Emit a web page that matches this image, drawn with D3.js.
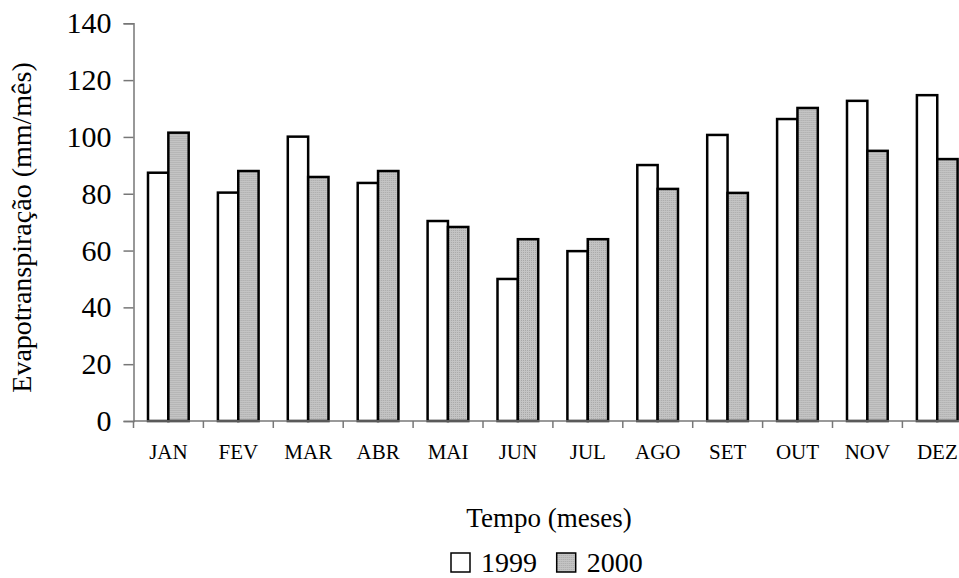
<!DOCTYPE html>
<html>
<head>
<meta charset="utf-8">
<script src="https://cdn.jsdelivr.net/npm/d3@7"></script>
<style>
  html, body { margin: 0; padding: 0; background: #fff; }
  svg text { font-family: "Liberation Serif", "Times New Roman", serif; fill: #000; }
</style>
</head>
<body>
<div id="chart"></div>
<script>
const months = ['JAN', 'FEV', 'MAR', 'ABR', 'MAI', 'JUN', 'JUL', 'AGO', 'SET', 'OUT', 'NOV', 'DEZ'];
const seriesNames = ['1999', '2000'];
const values1999 = [87.4, 80.4, 100.1, 83.8, 70.4, 50, 59.8, 90.1, 100.7, 106.3, 112.7, 114.7];
const values2000 = [101.5, 88, 85.9, 88, 68.3, 64, 64, 81.7, 80.3, 110.2, 95.1, 92.2];
const yTicks = [0, 20, 40, 60, 80, 100, 120, 140];

const width = 959;
const height = 578;

const svg = d3.select('#chart')
  .append('svg')
    .attr('width', width)
    .attr('height', height);

// dotted grey fill like the original
const defs = svg.append('defs');
const pat = defs.append('pattern')
  .attr('id', 'dots')
  .attr('patternUnits', 'userSpaceOnUse')
  .attr('width', 2)
  .attr('height', 2);
pat.append('rect').attr('width', 2).attr('height', 2).attr('fill', '#c4c4c4');
pat.append('rect').attr('width', 1).attr('height', 1).attr('fill', '#a8a8a8');

const fills = ['#ffffff', 'url(#dots)'];

const x = d3.scaleBand()
  .domain(months)
  .range([133.5, 972.3]);

const xs = d3.scaleBand()
  .domain(seriesNames)
  .range([14.5, 55.2]);

const y = d3.scaleLinear()
  .domain([0, 140])
  .range([421, 23.3]);

const rows = months.map((m, i) => ({ month: m, vals: [values1999[i], values2000[i]] }));

// bars
const groups = svg.selectAll('.month')
  .data(rows)
  .enter().append('g')
    .attr('class', 'month')
    .attr('transform', d => `translate(${x(d.month)},0)`);

groups.selectAll('rect')
  .data(d => d.vals.map((v, j) => ({ key: seriesNames[j], value: v, j })))
  .enter().append('rect')
    .attr('x', d => xs(d.key))
    .attr('y', d => y(d.value))
    .attr('width', xs.bandwidth())
    .attr('height', d => y(0) - y(d.value))
    .attr('fill', d => fills[d.j])
    .attr('stroke', '#000')
    .attr('stroke-width', 2.5);

// y axis
const yAxis = svg.append('g')
  .attr('transform', 'translate(133.5,0)')
  .call(d3.axisLeft(y).tickValues(yTicks).tickSize(10).tickPadding(12));
yAxis.attr('font-family', null).attr('font-size', null);
yAxis.select('.domain').attr('stroke', '#777').attr('stroke-width', 1.5);
yAxis.selectAll('.tick line').attr('stroke', '#777').attr('stroke-width', 1.5);
yAxis.selectAll('.tick text')
  .style('font-size', '30px');

// x axis: line and ticks between months
svg.append('line')
  .attr('x1', 133.5).attr('x2', width)
  .attr('y1', y(0)).attr('y2', y(0))
  .attr('stroke', '#777').attr('stroke-width', 1.5);

svg.selectAll('.xtick')
  .data(months)
  .enter().append('line')
    .attr('class', 'xtick')
    .attr('x1', d => x(d)).attr('x2', d => x(d))
    .attr('y1', y(0)).attr('y2', y(0) + 7)
    .attr('stroke', '#777').attr('stroke-width', 1.5);

svg.selectAll('.xlabel')
  .data(months)
  .enter().append('text')
    .attr('class', 'xlabel')
    .attr('x', d => x(d) + x.bandwidth() / 2)
    .attr('y', 459)
    .attr('text-anchor', 'middle')
    .style('font-size', '21px')
    .text(d => d);

// axis titles
svg.append('text')
  .attr('transform', 'translate(31,227.5) rotate(-90)')
  .attr('text-anchor', 'middle')
  .style('font-size', '28px')
  .text('Evapotranspiração (mm/mês)');

svg.append('text')
  .attr('x', 549)
  .attr('y', 527)
  .attr('text-anchor', 'middle')
  .style('font-size', '27px')
  .text('Tempo (meses)');

// legend
const legendX = [451, 556.7];
const legend = svg.selectAll('.legend')
  .data(seriesNames)
  .enter().append('g')
    .attr('class', 'legend')
    .attr('transform', (d, i) => `translate(${legendX[i]},553)`);

legend.append('rect')
  .attr('width', 19)
  .attr('height', 19)
  .attr('fill', (d, i) => fills[i])
  .attr('stroke', '#000')
  .attr('stroke-width', 1.5);

legend.append('text')
  .attr('x', 30)
  .attr('y', 18.5)
  .style('font-size', '28px')
  .text(d => d);
</script>
</body>
</html>
